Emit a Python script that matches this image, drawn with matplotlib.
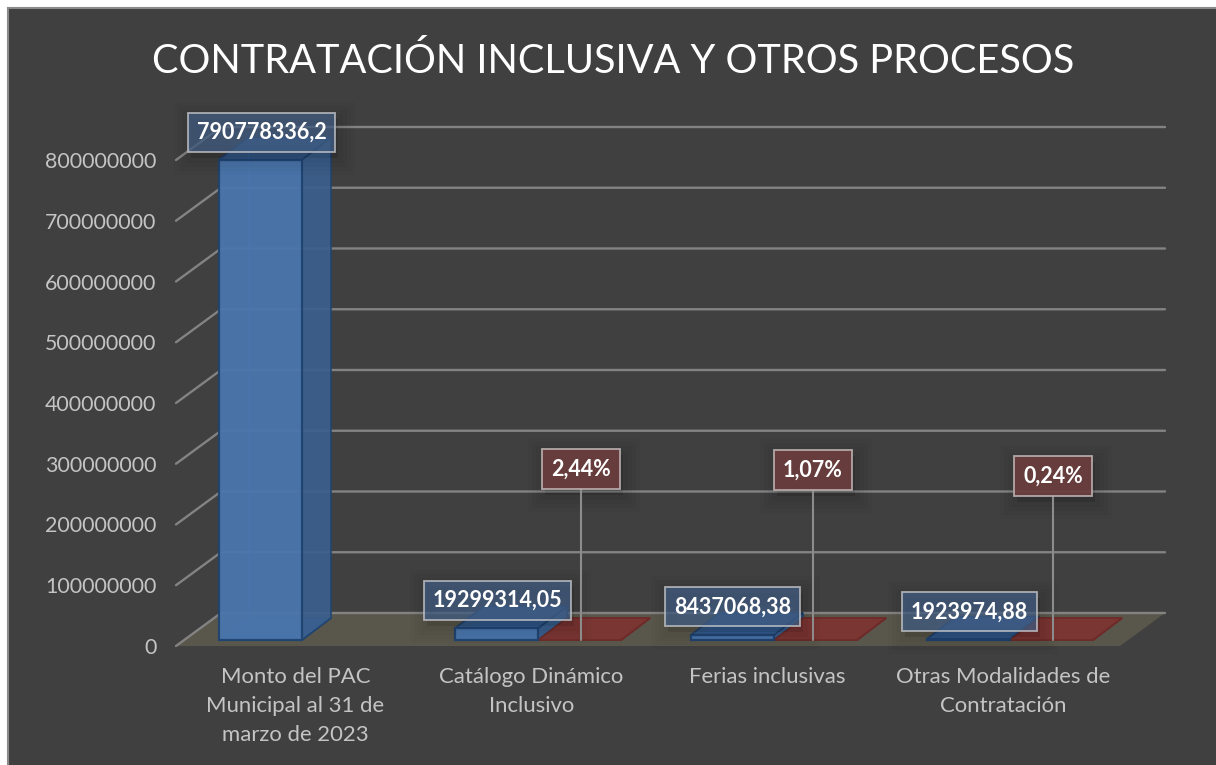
import matplotlib
matplotlib.use("Agg")
import matplotlib.pyplot as plt
from matplotlib.patches import Polygon, Rectangle
from matplotlib.transforms import IdentityTransform

categories = ["Monto del PAC\nMunicipal al 31 de\nmarzo de 2023",
              "Catálogo Dinámico\nInclusivo",
              "Ferias inclusivas",
              "Otras Modalidades de\nContratación"]
montos = [790778336.2, 19299314.05, 8437068.38, 1923974.88]
monto_labels = ["790778336,2", "19299314,05", "8437068,38", "1923974,88"]
porcentajes = [None, 2.44, 1.07, 0.24]
porcentaje_labels = [None, "2,44%", "1,07%", "0,24%"]
title = "CONTRATACIÓN INCLUSIVA Y OTROS PROCESOS"
yticks = list(range(0, 900000000, 100000000))

W, H = 1216, 765
plt.rcParams['font.family'] = ['Lato', 'DejaVu Sans']
fig = plt.figure(figsize=(W / 100, H / 100), dpi=100, facecolor='white')

BG = '#404040'
fig.add_artist(Rectangle((7.5 / W, -0.01), 1.0, 1 - 7.5 / H + 0.01, transform=fig.transFigure,
                         facecolor=BG, edgecolor='#8a8a8a', linewidth=1.5, zorder=-10))

# plot frame in pixels
L, R, Y0, Y800 = 176, 1120, 646, 160
ax = fig.add_axes([L / W, 1 - Y0 / H, (R - L) / W, (Y0 - Y800) / H])
ax.set_xlim(0, 4)
ax.set_ylim(0, 800000000)
ax.patch.set_alpha(0)
for s in ax.spines.values():
    s.set_visible(False)

PX = 4 / (R - L)                       # category units per pixel
PY = 800000000 / (Y0 - Y800)           # value units per pixel
WALL_X, WALL_Y = 45 * PX, 33 * PY      # floor depth
DX, DY = 29 * PX, 22 * PY              # bar depth
BASE = 6 * PY                          # bar base above front floor edge
GROUP_PAD = 43 * PX
BW = 83 * PX

# floor
ax.add_patch(Polygon([(0, 0), (4, 0), (4 + WALL_X, WALL_Y), (WALL_X, WALL_Y)],
                     closed=True, facecolor='#59564c', edgecolor='none', clip_on=False, zorder=1))
# gridlines on wall and side wall
for v in yticks:
    ax.plot([0, WALL_X, 4 + WALL_X], [v, v + WALL_Y, v + WALL_Y], color='#838383', lw=1.7,
            clip_on=False, zorder=1.5, solid_capstyle='round')

def box3d(x, v, side, top, edge):
    b = BASE
    ax.add_patch(Polygon([(x + DX, b + DY), (x + BW + DX, b + DY), (x + BW, b), (x, b)],
                         closed=True, facecolor=top, edgecolor=edge, lw=1.2, alpha=0.85,
                         clip_on=False, zorder=2))
    if v > 0:
        ax.add_patch(Polygon([(x + BW, b), (x + BW + DX, b + DY), (x + BW + DX, b + v + DY), (x + BW, b + v)],
                             closed=True, facecolor=side, edgecolor=edge, lw=1.2, alpha=0.92,
                             clip_on=False, zorder=3))
        ax.add_patch(Polygon([(x, b + v), (x + BW, b + v), (x + BW + DX, b + v + DY), (x + DX, b + v + DY)],
                             closed=True, facecolor=top, edgecolor=edge, lw=1.2, alpha=0.92,
                             clip_on=False, zorder=3))

xs = [i + GROUP_PAD for i in range(4)]
for x, v in zip(xs, montos):
    box3d(x, v, '#3b5f8e', '#335a8c', '#1f4470')
    ax.plot([x + DX, x + DX], [BASE + DY, BASE + DY + v], color='#3f6ca6', lw=1, zorder=2.5, clip_on=False)
ax.bar(xs, montos, width=BW, bottom=BASE, align='edge', color='#4a76ad', alpha=0.95,
       edgecolor='#1f4470', linewidth=1.6, clip_on=False, zorder=4)

xr = [x + BW for x in xs]
for x, p in zip(xr, porcentajes):
    if p is None:
        continue
    box3d(x, p / 100, '#7a3632', '#7a3632', '#6e2a28')

# tick labels
ax.set_yticks(yticks)
ax.set_yticklabels([str(v) for v in yticks], fontsize=15.4, color='#c4c4c4')
ax.set_xticks([i + 0.5 + 1.5 * PX for i in range(4)])
ax.set_xticklabels(categories, fontsize=15.9, color='#c4c4c4', linespacing=1.58)
ax.tick_params(axis='y', length=0, pad=14)
ax.tick_params(axis='x', length=0, pad=15)

# data labels (offsets in pixels from the bar)
blue_off = [(1, 27), (1, 28), (0, 28), (1, 27)]
red_pos = [None, 171, 170, 164]
red_dx = [None, 1.5, -2.5, 1.5]
texts = []
for x, v, t, o in zip(xs, montos, monto_labels, blue_off):
    tx = ax.annotate(t, xy=(x + BW / 2, BASE + v), xytext=o, textcoords='offset pixels',
                     ha='center', va='center', fontsize=15.5, fontweight='bold', color='white',
                     bbox=dict(boxstyle='square,pad=0.42', facecolor=(0.26, 0.37, 0.52, 0.72),
                               edgecolor=(0.74, 0.75, 0.77, 0.85), linewidth=1.3),
                     annotation_clip=False, zorder=8)
    texts.append(tx)
for x, p, t, h, d in zip(xr, porcentajes, porcentaje_labels, red_pos, red_dx):
    if p is None:
        continue
    tx = ax.annotate(t, xy=(x + BW / 2 + d * PX, BASE), xytext=(0, h), textcoords='offset pixels',
                     ha='center', va='center', fontsize=15.5, fontweight='bold', color='white',
                     bbox=dict(boxstyle='square,pad=0.42', facecolor=(0.42, 0.24, 0.24, 0.92),
                               edgecolor=(0.74, 0.70, 0.70, 0.9), linewidth=1.3),
                     arrowprops=dict(arrowstyle='-', color='#8c8c8c', lw=1.5, shrinkA=0, shrinkB=0),
                     annotation_clip=False, zorder=8)
    texts.append(tx)

fig.text(613.5 / W, 1 - 61 / H, title, ha='center', va='center', fontsize=28.6, color='white')

# soft shadows under the labels
fig.canvas.draw()
for tx in texts:
    e = tx.get_bbox_patch().get_window_extent()
    for lw, a in [(34, 0.015), (26, 0.018), (18, 0.022), (10, 0.025)]:
        ax.add_patch(Rectangle((e.x0 + 3, e.y0 - 6), e.width, e.height, transform=IdentityTransform(),
                               facecolor=(0, 0, 0, a), edgecolor=(0, 0, 0, a), linewidth=lw * 0.72,
                               clip_on=False, zorder=7))

fig.savefig('out.png', dpi=100, facecolor='white')
